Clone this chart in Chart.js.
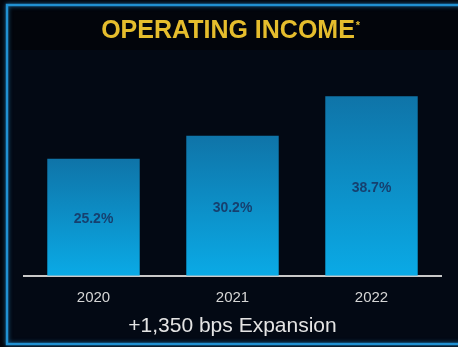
<!DOCTYPE html>
<html>
<head>
<meta charset="utf-8">
<script src="https://cdn.jsdelivr.net/npm/chart.js@4/dist/chart.umd.min.js"></script>
<style>
  html, body { margin: 0; padding: 0; background: #02050b; }
  #wrap { width: 458px; height: 347px; position: relative; }
</style>
</head>
<body>
<div id="wrap"><canvas id="chart"></canvas></div>
<script>
const years = ['2020', '2021', '2022']
const margins = [25.2, 30.2, 38.7]
const footNote = '+1,350 bps Expansion'
const heading = 'OPERATING INCOME'

// frame + dark panel behind everything
const framePlugin = {
  id: 'frame',
  beforeDraw(chart) {
    const ctx = chart.ctx
    ctx.save()
    ctx.fillStyle = '#02050b'
    ctx.fillRect(0, 0, chart.width, chart.height)
    ctx.fillStyle = '#030914'
    ctx.fillRect(8, 50, chart.width - 8, 292)
    ctx.shadowColor = 'rgba(40,150,220,0.7)'
    ctx.shadowBlur = 4
    ctx.strokeStyle = '#2191d2'
    ctx.lineWidth = 2.5
    ctx.beginPath()
    ctx.moveTo(chart.width + 5, 5)
    ctx.lineTo(7, 5)
    ctx.lineTo(7, 344)
    ctx.lineTo(chart.width + 5, 344)
    ctx.stroke()
    ctx.restore()
  },
  afterDraw(chart) {
    const ctx = chart.ctx
    ctx.save()
    ctx.font = 'bold 25px "Liberation Sans", Arial, sans-serif'
    ctx.fillStyle = '#e5bd2d'
    ctx.textBaseline = 'alphabetic'
    ctx.textAlign = 'left'
    const w = ctx.measureText(heading).width
    const x0 = 228 - w / 2
    ctx.fillText(heading, x0, 38)
    ctx.font = 'bold 11px "Liberation Sans", Arial, sans-serif'
    ctx.fillText('*', x0 + w + 1, 29)
    ctx.restore()
  }
}

// value labels in the middle of each bar
const valuePlugin = {
  id: 'values',
  afterDatasetsDraw(chart) {
    const ctx = chart.ctx
    const meta = chart.getDatasetMeta(0)
    ctx.save()
    ctx.font = 'bold 14px "Liberation Sans", Arial, sans-serif'
    ctx.fillStyle = '#16406f'
    ctx.textAlign = 'center'
    ctx.textBaseline = 'middle'
    meta.data.forEach((bar, i) => {
      ctx.fillText(margins[i].toFixed(1) + '%', bar.x, (bar.y + bar.base) / 2 + 2)
    })
    ctx.restore()
  }
}

function barFill(context) {
  const chart = context.chart
  const y = chart.scales.y
  if (!chart.chartArea || !y) return '#0b95d0'
  const top = y.getPixelForValue(context.raw)
  const bottom = y.getPixelForValue(0)
  const g = chart.ctx.createLinearGradient(0, top, 0, bottom)
  g.addColorStop(0, '#0f74a8')
  g.addColorStop(1, '#0aaae6')
  return g
}

new Chart(document.getElementById('chart'), {
  type: 'bar',
  data: {
    labels: years,
    datasets: [{
      data: margins,
      backgroundColor: barFill,
      borderWidth: 0,
      barPercentage: 0.665,
      categoryPercentage: 1
    }]
  },
  options: {
    responsive: true,
    maintainAspectRatio: false,
    animation: false,
    layout: { padding: { left: 24, right: 17, top: 67, bottom: 8 } },
    plugins: {
      legend: { display: false },
      tooltip: { enabled: false }
    },
    scales: {
      x: {
        grid: { display: false },
        border: { color: '#c9c9c9', width: 2 },
        ticks: {
          color: '#d6d6d6',
          font: { family: '"Liberation Sans", Arial, sans-serif', size: 15 },
          padding: 5
        },
        title: {
          display: true,
          text: footNote,
          color: '#e4e4e4',
          font: { family: '"Liberation Sans", Arial, sans-serif', size: 21 },
          padding: { top: 2, bottom: 0 }
        }
      },
      y: {
        display: false,
        min: 0,
        max: 45
      }
    }
  },
  plugins: [framePlugin, valuePlugin]
})
</script>
</body>
</html>
